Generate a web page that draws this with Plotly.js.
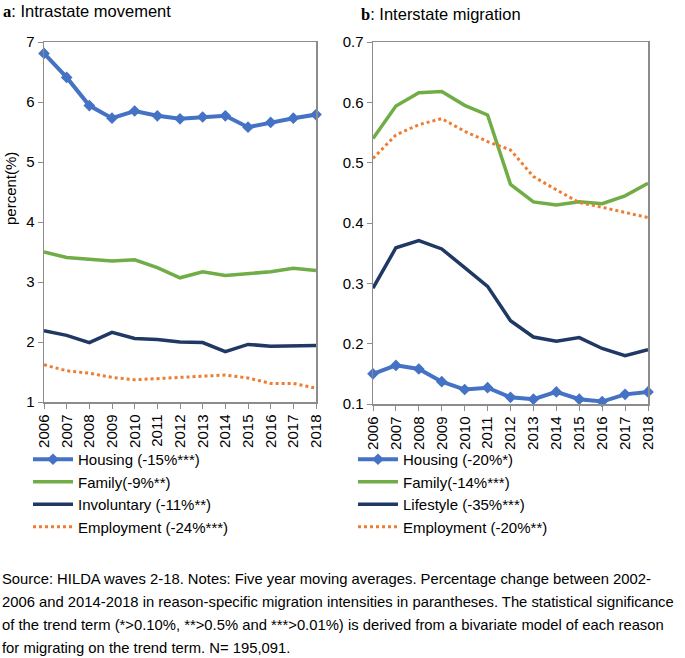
<!DOCTYPE html>
<html>
<head>
<meta charset="utf-8">
<script src="https://cdn.plot.ly/plotly-3.0.1.min.js"></script>
<style>
  html, body { margin: 0; padding: 0; background: #fff; }
  #plot { width: 685px; height: 658px; }
</style>
</head>
<body>
<div id="plot"></div>
<script>
const years = [2006, 2007, 2008, 2009, 2010, 2011, 2012, 2013, 2014, 2015, 2016, 2017, 2018];

// panel a: intrastate movement (percent)
const intraHousing = [6.81, 6.41, 5.94, 5.73, 5.85, 5.77, 5.72, 5.75, 5.77, 5.58, 5.66, 5.73, 5.79];
const intraFamily = [3.50, 3.41, 3.38, 3.35, 3.37, 3.24, 3.07, 3.17, 3.11, 3.14, 3.17, 3.23, 3.19];
const intraInvoluntary = [2.19, 2.11, 1.99, 2.16, 2.06, 2.04, 2.00, 1.99, 1.84, 1.96, 1.93, 1.93, 1.94];
const intraEmployment = [1.62, 1.52, 1.48, 1.41, 1.37, 1.39, 1.40, 1.43, 1.45, 1.40, 1.31, 1.31, 1.23];

// panel b: interstate migration (percent)
const interHousing = [0.150, 0.164, 0.158, 0.137, 0.124, 0.127, 0.111, 0.108, 0.120, 0.108, 0.104, 0.116, 0.120];
const interFamily = [0.540, 0.594, 0.616, 0.618, 0.595, 0.579, 0.464, 0.435, 0.430, 0.435, 0.432, 0.445, 0.466];
const interLifestyle = [0.292, 0.359, 0.371, 0.357, 0.326, 0.295, 0.238, 0.211, 0.204, 0.210, 0.192, 0.180, 0.190];
const interEmployment = [0.507, 0.546, 0.563, 0.573, 0.552, 0.535, 0.521, 0.477, 0.455, 0.434, 0.426, 0.418, 0.409];

const namesA = ['Housing (-15%***)', 'Family(-9%**)', 'Involuntary (-11%**)', 'Employment (-24%***)'];
const namesB = ['Housing (-20%*)', 'Family(-14%***)', 'Lifestyle (-35%***)', 'Employment (-20%**)'];

const blue = '#4472c4', green = '#70ad47', navy = '#203864', orange = '#ed7d31';
const W = 685, H = 658;
const px = v => v / W;
const py = v => 1 - v / H;

function series(y, name, style, xa, ya, leg) {
  const t = { x: years, y: y, name: name, xaxis: xa, yaxis: ya, legend: leg, type: 'scatter', cliponaxis: false };
  if (style === 'housing') {
    t.mode = 'lines+markers';
    t.line = { color: blue, width: 4 };
    t.marker = { symbol: 'diamond', size: 9, color: blue };
  } else if (style === 'family') {
    t.mode = 'lines';
    t.line = { color: green, width: 3.5 };
  } else if (style === 'navy') {
    t.mode = 'lines';
    t.line = { color: navy, width: 3.5 };
  } else {
    t.mode = 'lines';
    t.line = { color: orange, width: 3, dash: 'dot' };
  }
  return t;
}

const traces = [
  series(intraHousing, namesA[0], 'housing', 'x', 'y', 'legend'),
  series(intraFamily, namesA[1], 'family', 'x', 'y', 'legend'),
  series(intraInvoluntary, namesA[2], 'navy', 'x', 'y', 'legend'),
  series(intraEmployment, namesA[3], 'emp', 'x', 'y', 'legend'),
  series(interHousing, namesB[0], 'housing', 'x2', 'y2', 'legend2'),
  series(interFamily, namesB[1], 'family', 'x2', 'y2', 'legend2'),
  series(interLifestyle, namesB[2], 'navy', 'x2', 'y2', 'legend2'),
  series(interEmployment, namesB[3], 'emp', 'x2', 'y2', 'legend2')
];

const font = { family: "'Liberation Sans', Arial, sans-serif", size: 15, color: '#000' };

const xBase = {
  range: [2006, 2018], tickvals: years, tickangle: -90,
  showline: true, mirror: true, linecolor: '#8c8c8c', linewidth: 1.5,
  ticks: 'outside', ticklen: 5, tickcolor: '#8c8c8c',
  showgrid: false, zeroline: false, tickfont: { size: 15 }
};
const yBase = {
  showline: true, mirror: true, linecolor: '#8c8c8c', linewidth: 1.5,
  ticks: 'outside', ticklen: 5, tickcolor: '#8c8c8c',
  showgrid: false, zeroline: false, tickfont: { size: 15 }
};

const legendBase = {
  orientation: 'v', xanchor: 'left', yanchor: 'top',
  bgcolor: 'rgba(0,0,0,0)', font: { size: 15 }, tracegroupgap: 0, itemwidth: 40
};

const note = [
  'Source: HILDA waves 2-18. Notes: Five year moving averages. Percentage change between 2002-',
  '2006 and 2014-2018 in reason-specific migration intensities in parantheses. The statistical significance',
  'of the trend term (*>0.10%, **>0.5% and ***>0.01%) is derived from a bivariate model of each reason',
  'for migrating on the trend term. N= 195,091.'
];

const annotations = [
  { text: "<b><span style='font-family:\"Liberation Serif\", serif'>a</span></b>: Intrastate movement",
    x: px(1), y: py(12), xref: 'paper', yref: 'paper', xanchor: 'left', yanchor: 'middle',
    showarrow: false, font: { size: 16.5 } },
  { text: "<b><span style='font-family:\"Liberation Serif\", serif'>b</span></b>: Interstate migration",
    x: px(359), y: py(14), xref: 'paper', yref: 'paper', xanchor: 'left', yanchor: 'middle',
    showarrow: false, font: { size: 16.5 } },
  { text: 'percent(%)', textangle: -90, x: px(10), y: py(189), xref: 'paper', yref: 'paper',
    xanchor: 'center', yanchor: 'middle', showarrow: false, font: { size: 15 } }
];
note.forEach((line, i) => {
  annotations.push({
    text: line, x: 0, y: py(579 + i * 23), xref: 'paper', yref: 'paper',
    xanchor: 'left', yanchor: 'middle', showarrow: false,
    font: { family: "'Liberation Sans', Arial, sans-serif", size: 14.8 }
  });
});

const layout = {
  width: W, height: H,
  margin: { l: 0, r: 0, t: 0, b: 0 },
  paper_bgcolor: '#fff', plot_bgcolor: '#fff',
  font: font,
  xaxis: Object.assign({}, xBase, { domain: [px(44), px(316)], anchor: 'y' }),
  yaxis: Object.assign({}, yBase, { domain: [py(402), py(42)], range: [1, 7], dtick: 1, anchor: 'x' }),
  xaxis2: Object.assign({}, xBase, { domain: [px(373), px(648)], anchor: 'y2' }),
  yaxis2: Object.assign({}, yBase, { domain: [py(404), py(42)], range: [0.1, 0.7], dtick: 0.1, tickformat: '.1f', anchor: 'x2' }),
  legend: Object.assign({}, legendBase, { x: px(28), y: py(443) }),
  legend2: Object.assign({}, legendBase, { x: px(353), y: py(443) }),
  annotations: annotations
};

Plotly.newPlot('plot', traces, layout, { displayModeBar: false, staticPlot: true });
</script>
</body>
</html>
